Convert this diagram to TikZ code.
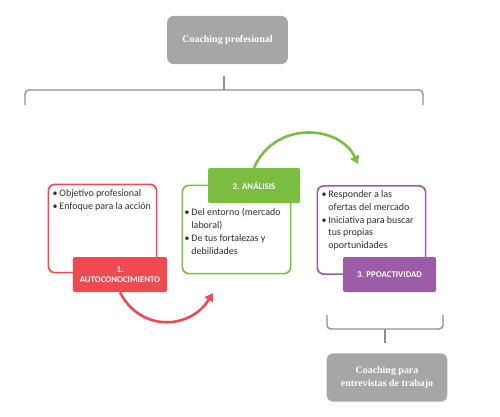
\documentclass[tikz,border=0pt]{standalone}
\usepackage{fontspec}
\setmainfont{Carlito}
\newfontfamily\titlefont{Liberation Serif}
\usepackage{tikz}
\usetikzlibrary{arrows.meta,positioning,calc}
\definecolor{coachGray}{HTML}{A6A6A6}
\definecolor{braceGray}{HTML}{8F8F8F}
\definecolor{bodyText}{HTML}{303030}
\definecolor{selfRed}{HTML}{EF4A51}
\definecolor{analysisGreen}{HTML}{7BBD40}
\definecolor{proPurple}{HTML}{9B5DA7}

\begin{document}
\begin{tikzpicture}[x=0.03cm, y=-0.03cm,
    greybox/.style={rectangle, fill=coachGray, rounded corners=2mm, inner sep=0pt, text=white, align=center, minimum width=3.62cm, minimum height=1.45cm, font=\titlefont\bfseries\fontsize{8.5}{10.5}\selectfont},
    framebox/.style={rectangle, draw=#1, line width=1.4pt, rounded corners=2mm, fill=white, inner sep=0pt, minimum width=3.25cm, minimum height=2.65cm},
    headbox/.style={rectangle, fill=#1, rounded corners=0.6mm, inner sep=0pt, text=white, align=center, minimum width=2.8cm, minimum height=1.05cm, font=\bfseries\fontsize{7.5}{9}\selectfont},
    itembox/.style={anchor=north west, inner sep=0pt, text=bodyText, font=\fontsize{8.5}{11}\selectfont},
    bracket/.style={draw=braceGray, line width=1.2pt, rounded corners=1.2mm},
    flowarrow/.style={draw=#1, line width=2.2pt, -{Triangle[length=2.4mm,width=2.8mm]}}
]
\useasboundingbox (0,0) rectangle (500,416);

% Nodes
\node[greybox] (top) at (227.5,40) {Coaching profesional};
\node[greybox] (bottom) at (387,377.5) {Coaching para\\entrevistas de trabajo};

\node[framebox=selfRed] (rbox) at (102.5,228.5) {};
\node[framebox=analysisGreen] (gbox) at (236.5,229.5) {};
\node[framebox=proPurple] (pbox) at (371.5,230) {};

\node[itembox] (rlist) at ($(rbox.north west)+(5,4)$) {\begin{tabular}{@{}l@{\hspace{1.5pt}}l@{}}
\textbullet & Objetivo profesional\\
\textbullet & Enfoque para la acción
\end{tabular}};
\node[itembox] (glist) at ($(gbox.north west)+(3,22)$) {\begin{tabular}{@{}l@{\hspace{1.5pt}}l@{}}
\textbullet & Del entorno (mercado\\
 & laboral)\\
\textbullet & De tus fortalezas y\\
 & debilidades
\end{tabular}};
\node[itembox] (plist) at ($(pbox.north west)+(5,3)$) {\begin{tabular}{@{}l@{\hspace{1.5pt}}l@{}}
\textbullet & Responder a las\\
 & ofertas del mercado\\
\textbullet & Iniciativa para buscar\\
 & tus propias\\
 & oportunidades
\end{tabular}};

\node[headbox=selfRed, minimum width=2.82cm] (rhead) at (120,274.5) {1.\\AUTOCONOCIMIENTO};
\node[headbox=analysisGreen, minimum width=2.76cm] (ghead) at (254,185.5) {2. ANÁLISIS};
\node[headbox=proPurple, minimum width=2.79cm] (phead) at (389.5,274.5) {3. PPOACTIVIDAD};

% Brackets
\coordinate (topL) at (25,105);
\coordinate (topR) at (423,105);
\coordinate (topTip) at (224,76);
\coordinate (botL) at (327,315);
\coordinate (botR) at (443,315);
\coordinate (botTip) at (385,343);
\draw[bracket] (topL) |- (224,90) -| (topR);
\draw[bracket] (224,90) -- (topTip);
\draw[bracket] (botL) |- (385,329) -| (botR);
\draw[bracket] (385,329) -- (botTip);

% Connections
\coordinate (redEnd) at (213,293);
\coordinate (greenEnd) at (358,164);
\draw[flowarrow=selfRed] (rhead.south) .. controls (140,332) and (190,330) .. (redEnd);
\draw[flowarrow=analysisGreen] (ghead.north) .. controls (275,120) and (340,125) .. (greenEnd);

\end{tikzpicture}
\end{document}
